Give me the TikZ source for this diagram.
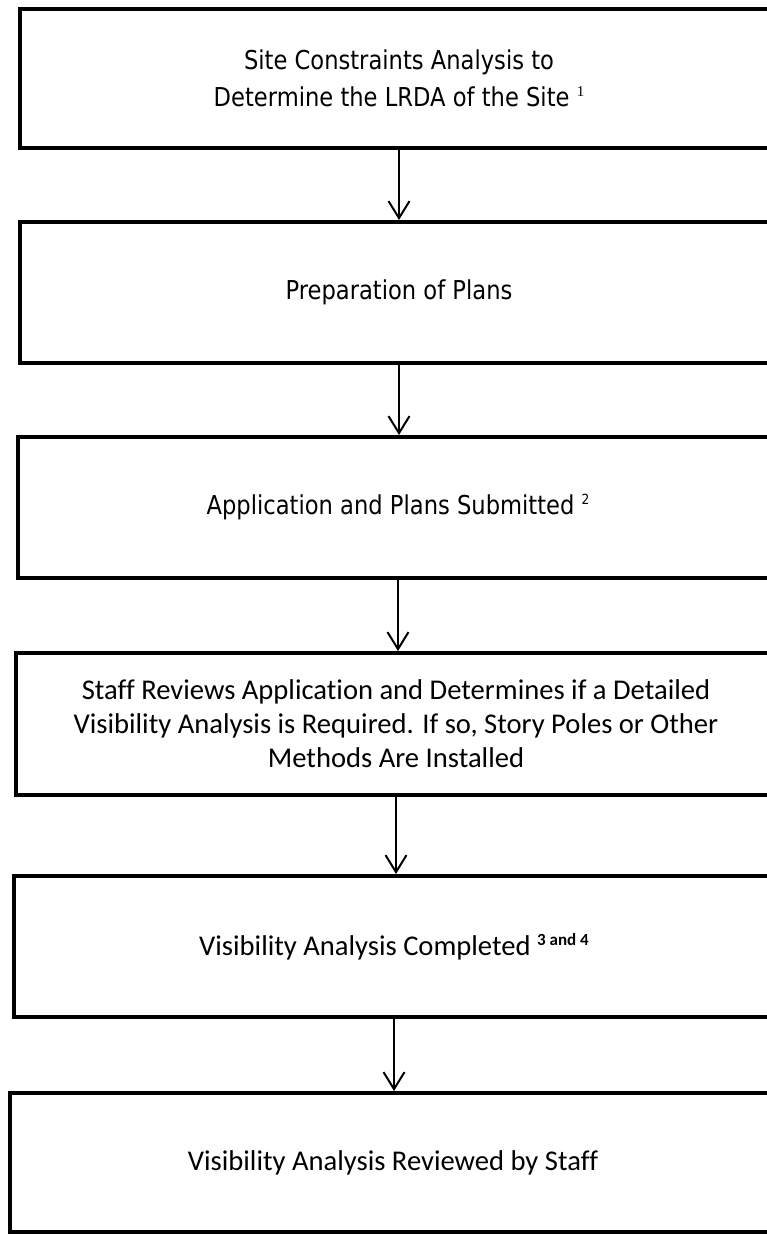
\documentclass[tikz,border=0pt]{standalone}
\usepackage{fontspec}
\setmainfont{Carlito}[Ligatures=NoCommon]
\newfontfamily\tahfont[FakeStretch=0.87]{DejaVu Sans}
\newfontfamily\serfont{Liberation Serif}
\usetikzlibrary{arrows.meta}
\newcommand\supmark[3]{\raisebox{#1}{\fontsize{#2}{#2}\selectfont #3}}
\begin{document}
\begin{tikzpicture}[x=1pt,y=-1pt,
  flowbox/.style={draw=black, line width=4pt, fill=white, align=center, inner sep=0pt},
  flowarrow/.style={draw=black, line width=2pt, -{Straight Barb[length=17pt,width=21pt]}},
  tahtext/.style={font=\tahfont\fontsize{26}{37}\selectfont},
  calitext/.style={font=\fontsize{28.6}{34}\selectfont}]
\useasboundingbox (0,0) rectangle (767,1234);
\fill[white] (0,0) rectangle (767,1234);
\clip (0,0) rectangle (767,1234);
\node[flowbox, tahtext, minimum width=758pt, minimum height=139pt] (b1) at (399,78.5)
  {Site Constraints Analysis to\\Determine the LRDA of the Site \supmark{10pt}{15}{\serfont 1}};
\node[flowbox, tahtext, minimum width=758pt, minimum height=141pt] (b2) at (399,292.5)
  {Preparation of Plans};
\node[flowbox, tahtext, minimum width=760pt, minimum height=141pt] (b3) at (398,507.5)
  {Application and Plans Submitted \supmark{10pt}{14}{\tahfont 2}};
\node[flowbox, calitext, minimum width=760pt, minimum height=142pt] (b4) at (396,724)
  {Staff Reviews Application and Determines if a Detailed\\Visibility Analysis is Required. If so, Story Poles or Other\\Methods Are Installed};
\node[flowbox, calitext, minimum width=760pt, minimum height=141pt] (b5) at (394,946.5)
  {Visibility Analysis Completed \supmark{10pt}{17}{\bfseries 3 and 4}};
\node[flowbox, calitext, minimum width=766pt, minimum height=139pt] (b6) at (393,1162.5)
  {Visibility Analysis Reviewed by Staff};
\draw[flowarrow] (b1.south) -- (b1.south |- b2.north);
\draw[flowarrow] (b2.south) -- (b2.south |- b3.north);
\draw[flowarrow] (b3.south) -- (b3.south |- b4.north);
\draw[flowarrow] (b4.south) -- (b4.south |- b5.north);
\draw[flowarrow] (b5.south) -- (b5.south |- b6.north);
\end{tikzpicture}
\end{document}
